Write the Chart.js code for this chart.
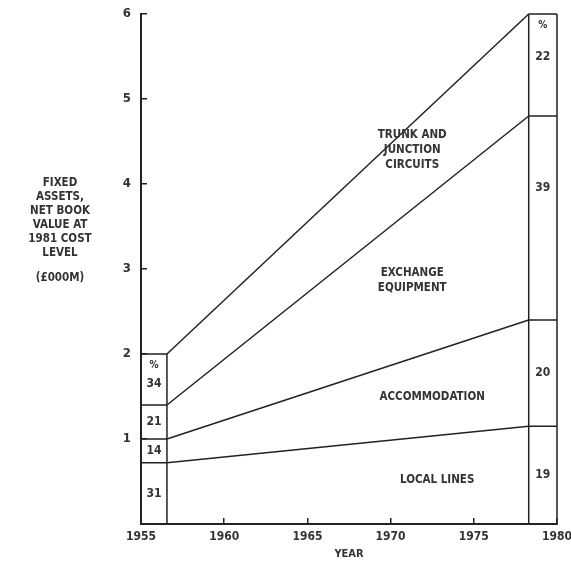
<!DOCTYPE html>
<html>
<head>
<meta charset="utf-8">
<script src="https://cdn.jsdelivr.net/npm/chart.js@4/dist/chart.umd.min.js"></script>
<style>
html, body { margin: 0; padding: 0; background: #fff; }
</style>
</head>
<body>
<canvas id="myChart" width="571" height="563"></canvas>
<script>
// bands, bottom to top
var categories = ['LOCAL LINES', 'ACCOMMODATION', 'EXCHANGE EQUIPMENT', 'TRUNK AND JUNCTION CIRCUITS'];
// inner edges of the two end bars (year)
var startYear = 1956.56;
var endYear = 1978.3;
// running totals (£000M) at the top of each band
var top1956 = [0.72, 1.0, 1.4, 2.0];
var top1978 = [1.15, 2.4, 4.8, 6.0];
// percentage shares in each end bar
var pct1956 = [31, 14, 21, 34];
var pct1978 = [19, 20, 39, 22];
var yTitle = ['FIXED', 'ASSETS,', 'NET BOOK', 'VALUE AT', '1981 COST', 'LEVEL'];
var yUnit = '(£000M)';

var FONT = "'Liberation Sans Narrow', 'DejaVu Sans Condensed', sans-serif";
var INK = '#222';

// box outline: vertical edges plus one rule per band boundary
function boxData(x0, x1, tops, edges) {
    var pts = [];
    edges.forEach(function (ex) {
        pts.push({x: ex, y: 0}, {x: ex, y: tops[tops.length - 1]}, {x: ex, y: null});
    });
    tops.forEach(function (t) {
        pts.push({x: x0, y: t}, {x: x1, y: t}, {x: x0, y: null});
    });
    return pts;
}

var datasets = categories.map(function (name, i) {
    return {
        label: name,
        data: [{x: startYear, y: top1956[i]}, {x: endYear, y: top1978[i]}],
        borderColor: INK,
        borderWidth: 1.5,
        pointRadius: 0,
        clip: false
    };
});
datasets.push({
    label: 'bar1956',
    data: boxData(1955, startYear, top1956, [startYear]),
    borderColor: INK, borderWidth: 1.5, pointRadius: 0, clip: false
});
datasets.push({
    label: 'bar1978',
    data: boxData(endYear, 1980, top1978, [endYear, 1980]),
    borderColor: INK, borderWidth: 1.5, pointRadius: 0, clip: false
});

// texts placed in data units
var bandLabels = [
    {lines: ['LOCAL LINES'], x: 1972.8, y: 0.52},
    {lines: ['ACCOMMODATION'], x: 1972.5, y: 1.49},
    {lines: ['EXCHANGE', 'EQUIPMENT'], x: 1971.3, y: 2.86},
    {lines: ['TRUNK AND', 'JUNCTION', 'CIRCUITS'], x: 1971.3, y: 4.4}
];

var textPlugin = {
    id: 'texts',
    afterDatasetsDraw: function (chart) {
        var ctx = chart.ctx;
        var xs = chart.scales.x, ys = chart.scales.y;
        ctx.save();
        ctx.fillStyle = '#333';
        ctx.textAlign = 'center';
        ctx.textBaseline = 'middle';
        ctx.font = 'bold 12px ' + FONT;

        function barTexts(x0, x1, tops, pcts, special) {
            var cx = (xs.getPixelForValue(x0) + xs.getPixelForValue(x1)) / 2;
            var prev = 0;
            tops.forEach(function (t, i) {
                var mid = (prev + t) / 2;
                if (special && special[i] != null) mid = special[i];
                var py = ys.getPixelForValue(mid);
                if (i === tops.length - 1) {
                    ctx.font = 'bold 10px ' + FONT;
                    ctx.fillText('%', cx, ys.getPixelForValue(t) + 11);
                    ctx.font = 'bold 12px ' + FONT;
                    py = Math.max(py, ys.getPixelForValue(t) + 30);
                }
                ctx.fillText(String(pcts[i]), cx, py);
                prev = t;
            });
        }
        barTexts(1955, startYear, top1956, pct1956);
        barTexts(endYear, 1980, top1978, pct1978, [null, null, 3.95, 5.5]);

        ctx.font = 'bold 11.5px ' + FONT;
        bandLabels.forEach(function (b) {
            var px = xs.getPixelForValue(b.x);
            var py = ys.getPixelForValue(b.y) - (b.lines.length - 1) * 7.5;
            b.lines.forEach(function (l, k) {
                ctx.fillText(l, px, py + k * 15);
            });
        });

        yTitle.forEach(function (l, k) {
            ctx.fillText(l, 60, 183 + k * 14);
        });
        ctx.fillText(yUnit, 60, 278);
        ctx.restore();
    }
};

const ctx = document.getElementById('myChart').getContext('2d');
var myChart = new Chart(ctx, {
    type: 'line',
    data: {datasets: datasets},
    options: {
        responsive: false,
        animation: false,
        devicePixelRatio: 1,
        layout: {padding: 0},
        plugins: {legend: {display: false}, tooltip: {enabled: false}},
        scales: {
            x: {
                type: 'linear', min: 1955, max: 1980,
                grid: {drawOnChartArea: false, tickLength: -6, color: INK, lineWidth: 1.5},
                border: {color: INK, width: 2},
                ticks: {stepSize: 5, color: '#333', padding: 12, font: {family: FONT, size: 12, weight: 'bold'},
                    callback: function (v) { return String(v); }},
                title: {display: true, text: 'YEAR', color: '#333', padding: {top: 0, bottom: 2}, font: {family: FONT, size: 11, weight: 'bold'}},
                afterFit: function (s) {
                    s.height = 39;
                    s.paddingLeft = 0;
                    s.paddingRight = 14;
                }
            },
            y: {
                min: 0, max: 6,
                grid: {drawOnChartArea: false, tickLength: -6, color: INK, lineWidth: 1.5},
                border: {color: INK, width: 2},
                ticks: {stepSize: 1, color: '#333', padding: 16, font: {family: FONT, size: 13, weight: 'bold'},
                    callback: function (v) { return v === 0 ? '' : String(v); }},
                afterFit: function (s) {
                    s.width = 141;
                    s.paddingTop = 14;
                    s.paddingBottom = 0;
                }
            }
        }
    },
    plugins: [textPlugin]
});
</script>
</body>
</html>
